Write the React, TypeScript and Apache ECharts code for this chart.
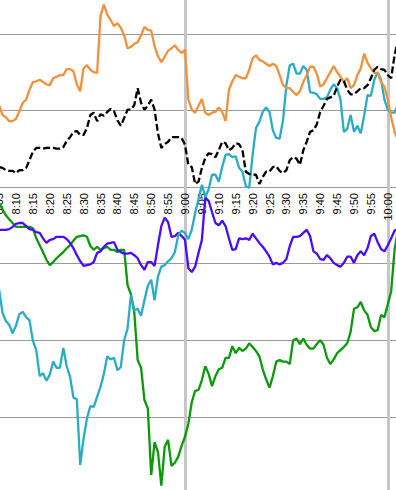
import React, { useEffect, useRef } from "react";
import * as echarts from "echarts";

// minutes after 8:00 for first and last category (8:05 ... 10:03)
const startMinute = 5;
const endMinute = 123;
const times: string[] = [];
for (let m = startMinute; m <= endMinute; m++) {
  const h = 8 + Math.floor(m / 60);
  const mm = m % 60;
  times.push(`${h}:${mm < 10 ? "0" + mm : mm}`);
}

const orange = [
  1.07, 0.94, 0.91, 0.86, 0.86, 0.89, 0.99, 1.10, 1.14, 1.27,
  1.37, 1.38, 1.40, 1.37, 1.34, 1.33, 1.42, 1.44, 1.46, 1.46,
  1.54, 1.54, 1.51, 1.34, 1.25, 1.55, 1.59, 1.53, 1.50, 1.49,
  2.23, 2.38, 2.25, 2.18, 2.10, 2.14, 2.08, 1.98, 1.81, 1.83,
  1.87, 1.89, 1.98, 2.09, 2.05, 2.04, 1.84, 1.71, 1.63, 1.70,
  1.78, 1.81, 1.85, 1.79, 1.75, 1.79, 1.14, 1.01, 0.97, 1.06,
  1.15, 0.97, 0.94, 0.97, 0.98, 1.04, 0.98, 0.86, 1.27, 1.38,
  1.46, 1.44, 1.42, 1.42, 1.53, 1.68, 1.72, 1.66, 1.64, 1.61,
  1.58, 1.61, 1.58, 1.46, 1.33, 1.29, 1.29, 1.24, 1.20, 1.25,
  1.37, 1.46, 1.57, 1.57, 1.48, 1.31, 1.34, 1.42, 1.50, 1.58,
  1.50, 1.44, 1.37, 1.42, 1.29, 1.33, 1.46, 1.55, 1.74, 1.62,
  1.55, 1.49, 1.49, 1.37, 1.31, 1.14, 0.91, 0.72, 0.61,
];

const black = [
  0.26, 0.25, 0.22, 0.21, 0.21, 0.18, 0.22, 0.22, 0.25, 0.35,
  0.46, 0.51, 0.51, 0.50, 0.51, 0.51, 0.51, 0.50, 0.50, 0.52,
  0.60, 0.65, 0.72, 0.73, 0.68, 0.68, 0.77, 0.94, 0.97, 0.86,
  0.95, 0.93, 0.98, 1.02, 0.99, 0.87, 0.80, 0.90, 1.01, 1.01,
  1.07, 1.29, 1.10, 1.01, 1.06, 1.14, 1.01, 0.70, 0.51, 0.56,
  0.59, 0.65, 0.65, 0.65, 0.64, 0.55, 0.29, 0.26, 0.04, 0.07,
  0.25, 0.38, 0.44, 0.43, 0.39, 0.48, 0.59, 0.57, 0.48, 0.51,
  0.57, 0.56, 0.48, 0.20, 0.17, 0.16, 0.16, 0.04, 0.13, 0.20,
  0.20, 0.26, 0.27, 0.21, 0.18, 0.22, 0.35, 0.39, 0.37, 0.29,
  0.48, 0.59, 0.72, 0.74, 0.82, 0.98, 1.06, 1.15, 1.17, 1.19,
  1.31, 1.40, 1.38, 1.27, 1.21, 1.21, 1.25, 1.29, 1.29, 1.33,
  1.42, 1.53, 1.57, 1.54, 1.53, 1.46, 1.42, 1.72, 1.92,
];

const cyan = [
  -1.34, -1.64, -1.75, -1.80, -1.91, -1.81, -1.66, -1.63, -1.70, -1.74,
  -2.01, -2.13, -2.47, -2.43, -2.53, -2.45, -2.28, -2.36, -2.36, -2.10,
  -2.34, -2.48, -2.75, -2.77, -3.63, -3.28, -3.02, -2.86, -2.87, -2.74,
  -2.61, -2.44, -2.21, -2.25, -2.23, -2.39, -2.35, -2.00, -1.85, -1.41,
  -1.61, -1.59, -1.68, -1.48, -1.29, -1.21, -1.48, -1.17, -1.04, -1.02,
  -0.97, -0.93, -0.85, -0.63, -0.57, -0.60, -0.68, -0.56, -0.34, -0.16,
  0.03, -0.13, -0.03, 0.16, 0.16, 0.07, 0.26, 0.42, 0.43, 0.39,
  0.40, 0.25, 0.20, 0.01, -0.01, 0.42, 0.77, 0.85, 0.98, 1.04,
  0.98, 0.74, 0.64, 0.63, 0.87, 1.33, 1.59, 1.61, 1.48, 1.48,
  1.58, 1.53, 1.24, 1.23, 1.21, 1.15, 1.15, 1.17, 1.27, 1.34,
  1.29, 1.14, 0.72, 0.76, 0.94, 0.72, 0.80, 0.70, 0.93, 1.20,
  1.19, 1.40, 1.50, 1.40, 1.14, 1.01, 0.97, 0.97, 1.07,
];

const blue = [
  -0.56, -0.56, -0.56, -0.55, -0.52, -0.48, -0.47, -0.47, -0.51, -0.55,
  -0.56, -0.59, -0.60, -0.67, -0.73, -0.69, -0.68, -0.65, -0.65, -0.65,
  -0.68, -0.73, -0.80, -0.89, -0.97, -1.03, -1.02, -1.01, -0.98, -0.86,
  -0.84, -0.78, -0.74, -0.73, -0.72, -0.82, -0.85, -0.87, -0.87, -0.86,
  -0.89, -0.93, -1.02, -1.08, -0.98, -0.98, -1.03, -0.76, -0.51, -0.40,
  -0.46, -0.65, -0.64, -0.60, -0.64, -0.69, -1.06, -1.11, -1.04, -0.86,
  -0.69, -0.14, -0.18, -0.33, -0.47, -0.50, -0.44, -0.51, -0.67, -0.82,
  -0.81, -0.67, -0.68, -0.67, -0.69, -0.61, -0.67, -0.73, -0.78, -0.84,
  -0.91, -1.01, -0.99, -1.01, -0.99, -0.94, -0.77, -0.65, -0.65, -0.64,
  -0.60, -0.56, -0.64, -0.84, -0.87, -0.94, -0.95, -0.89, -0.93, -0.99,
  -1.02, -1.04, -0.99, -0.91, -0.91, -0.99, -0.89, -0.84, -0.89, -0.80,
  -0.64, -0.61, -0.72, -0.81, -0.84, -0.76, -0.67, -0.57, -0.55,
];

const green = [
  -0.21, -0.29, -0.37, -0.42, -0.47, -0.52, -0.52, -0.52, -0.52, -0.52,
  -0.54, -0.67, -0.76, -0.85, -0.95, -1.02, -0.98, -0.93, -0.89, -0.85,
  -0.80, -0.76, -0.70, -0.65, -0.64, -0.63, -0.65, -0.77, -0.82, -0.78,
  -0.82, -0.80, -0.78, -0.82, -0.82, -0.85, -0.82, -0.82, -1.28, -1.40,
  -1.64, -2.26, -2.36, -2.78, -2.89, -3.76, -3.33, -3.46, -3.90, -3.39,
  -3.30, -3.64, -3.60, -3.52, -3.38, -3.26, -3.09, -2.81, -2.66, -2.65,
  -2.52, -2.34, -2.44, -2.60, -2.47, -2.38, -2.36, -2.23, -2.23, -2.08,
  -2.17, -2.10, -2.14, -2.11, -2.04, -2.09, -2.14, -2.21, -2.38, -2.51,
  -2.62, -2.47, -2.28, -2.26, -2.28, -2.28, -2.31, -2.00, -1.98, -2.05,
  -1.98, -2.06, -2.11, -2.11, -2.05, -2.00, -2.06, -2.23, -2.31, -2.25,
  -2.17, -2.13, -2.09, -2.04, -1.89, -1.59, -1.57, -1.50, -1.61, -1.67,
  -1.83, -1.88, -1.87, -1.67, -1.70, -1.53, -1.36, -0.82, -0.56,
];

const hourLines = ["9:00", "10:00"];

const Y_MIN = -5;
const Y_MAX = 3;
const GRID_TOP = 7.2;
const GRID_HEIGHT = 612.8;

export default function App() {
  const ref = useRef<HTMLDivElement>(null);
  useEffect(() => {
    if (!ref.current) return;
    const chart = echarts.init(ref.current, undefined, { renderer: "svg" });
    const line = (name: string, data: number[], color: string, dashed = false) => ({
      name,
      type: "line",
      data,
      symbol: "none",
      smooth: false,
      lineStyle: { color, width: 2.3, type: dashed ? [7, 3] : "solid" },
      itemStyle: { color },
    });
    // distance from the grid bottom up to the value 0 line
    const zeroOffset = -(GRID_HEIGHT * (0 - Y_MIN)) / (Y_MAX - Y_MIN);
    chart.setOption({
      animation: false,
      grid: {
        left: 19.1,
        right: 42.06,
        top: GRID_TOP,
        height: GRID_HEIGHT,
        outerBoundsMode: "none",
        containLabel: false,
      },
      xAxis: {
        type: "category",
        data: times,
        boundaryGap: false,
        position: "bottom",
        offset: zeroOffset,
        axisLine: { show: false, onZero: false },
        axisTick: { show: false },
        axisLabel: {
          rotate: 90,
          margin: 6,
          fontSize: 11,
          fontFamily: "Liberation Sans",
          color: "#000",
          interval: (i: number, v: string) => /[05]$/.test(v),
        },
        splitLine: {
          show: true,
          interval: (i: number, v: string) => hourLines.includes(v),
          lineStyle: { color: "#c6c6c6", width: 3 },
        },
      },
      yAxis: {
        type: "value",
        min: Y_MIN,
        max: Y_MAX,
        interval: 1,
        axisLine: { show: false },
        axisTick: { show: false },
        axisLabel: { show: false },
        splitLine: { show: true, lineStyle: { color: "#9a9a9a", width: 1.2 } },
      },
      series: [
        line("Green", green, "#0a990a"),
        line("Blue", blue, "#4a0cff"),
        line("Cyan", cyan, "#2aabc6"),
        line("Orange", orange, "#f0913c"),
        line("Black", black, "#000000", true),
      ],
    });
    return () => chart.dispose();
  }, []);
  return (
    <div
      style={{
        position: "fixed",
        left: 0,
        top: 0,
        width: 396,
        height: 490,
        overflow: "hidden",
        background: "#fff",
      }}
    >
      <div
        ref={ref}
        style={{ position: "absolute", left: -20, top: -50, width: 460, height: 640 }}
      />
    </div>
  );
}
